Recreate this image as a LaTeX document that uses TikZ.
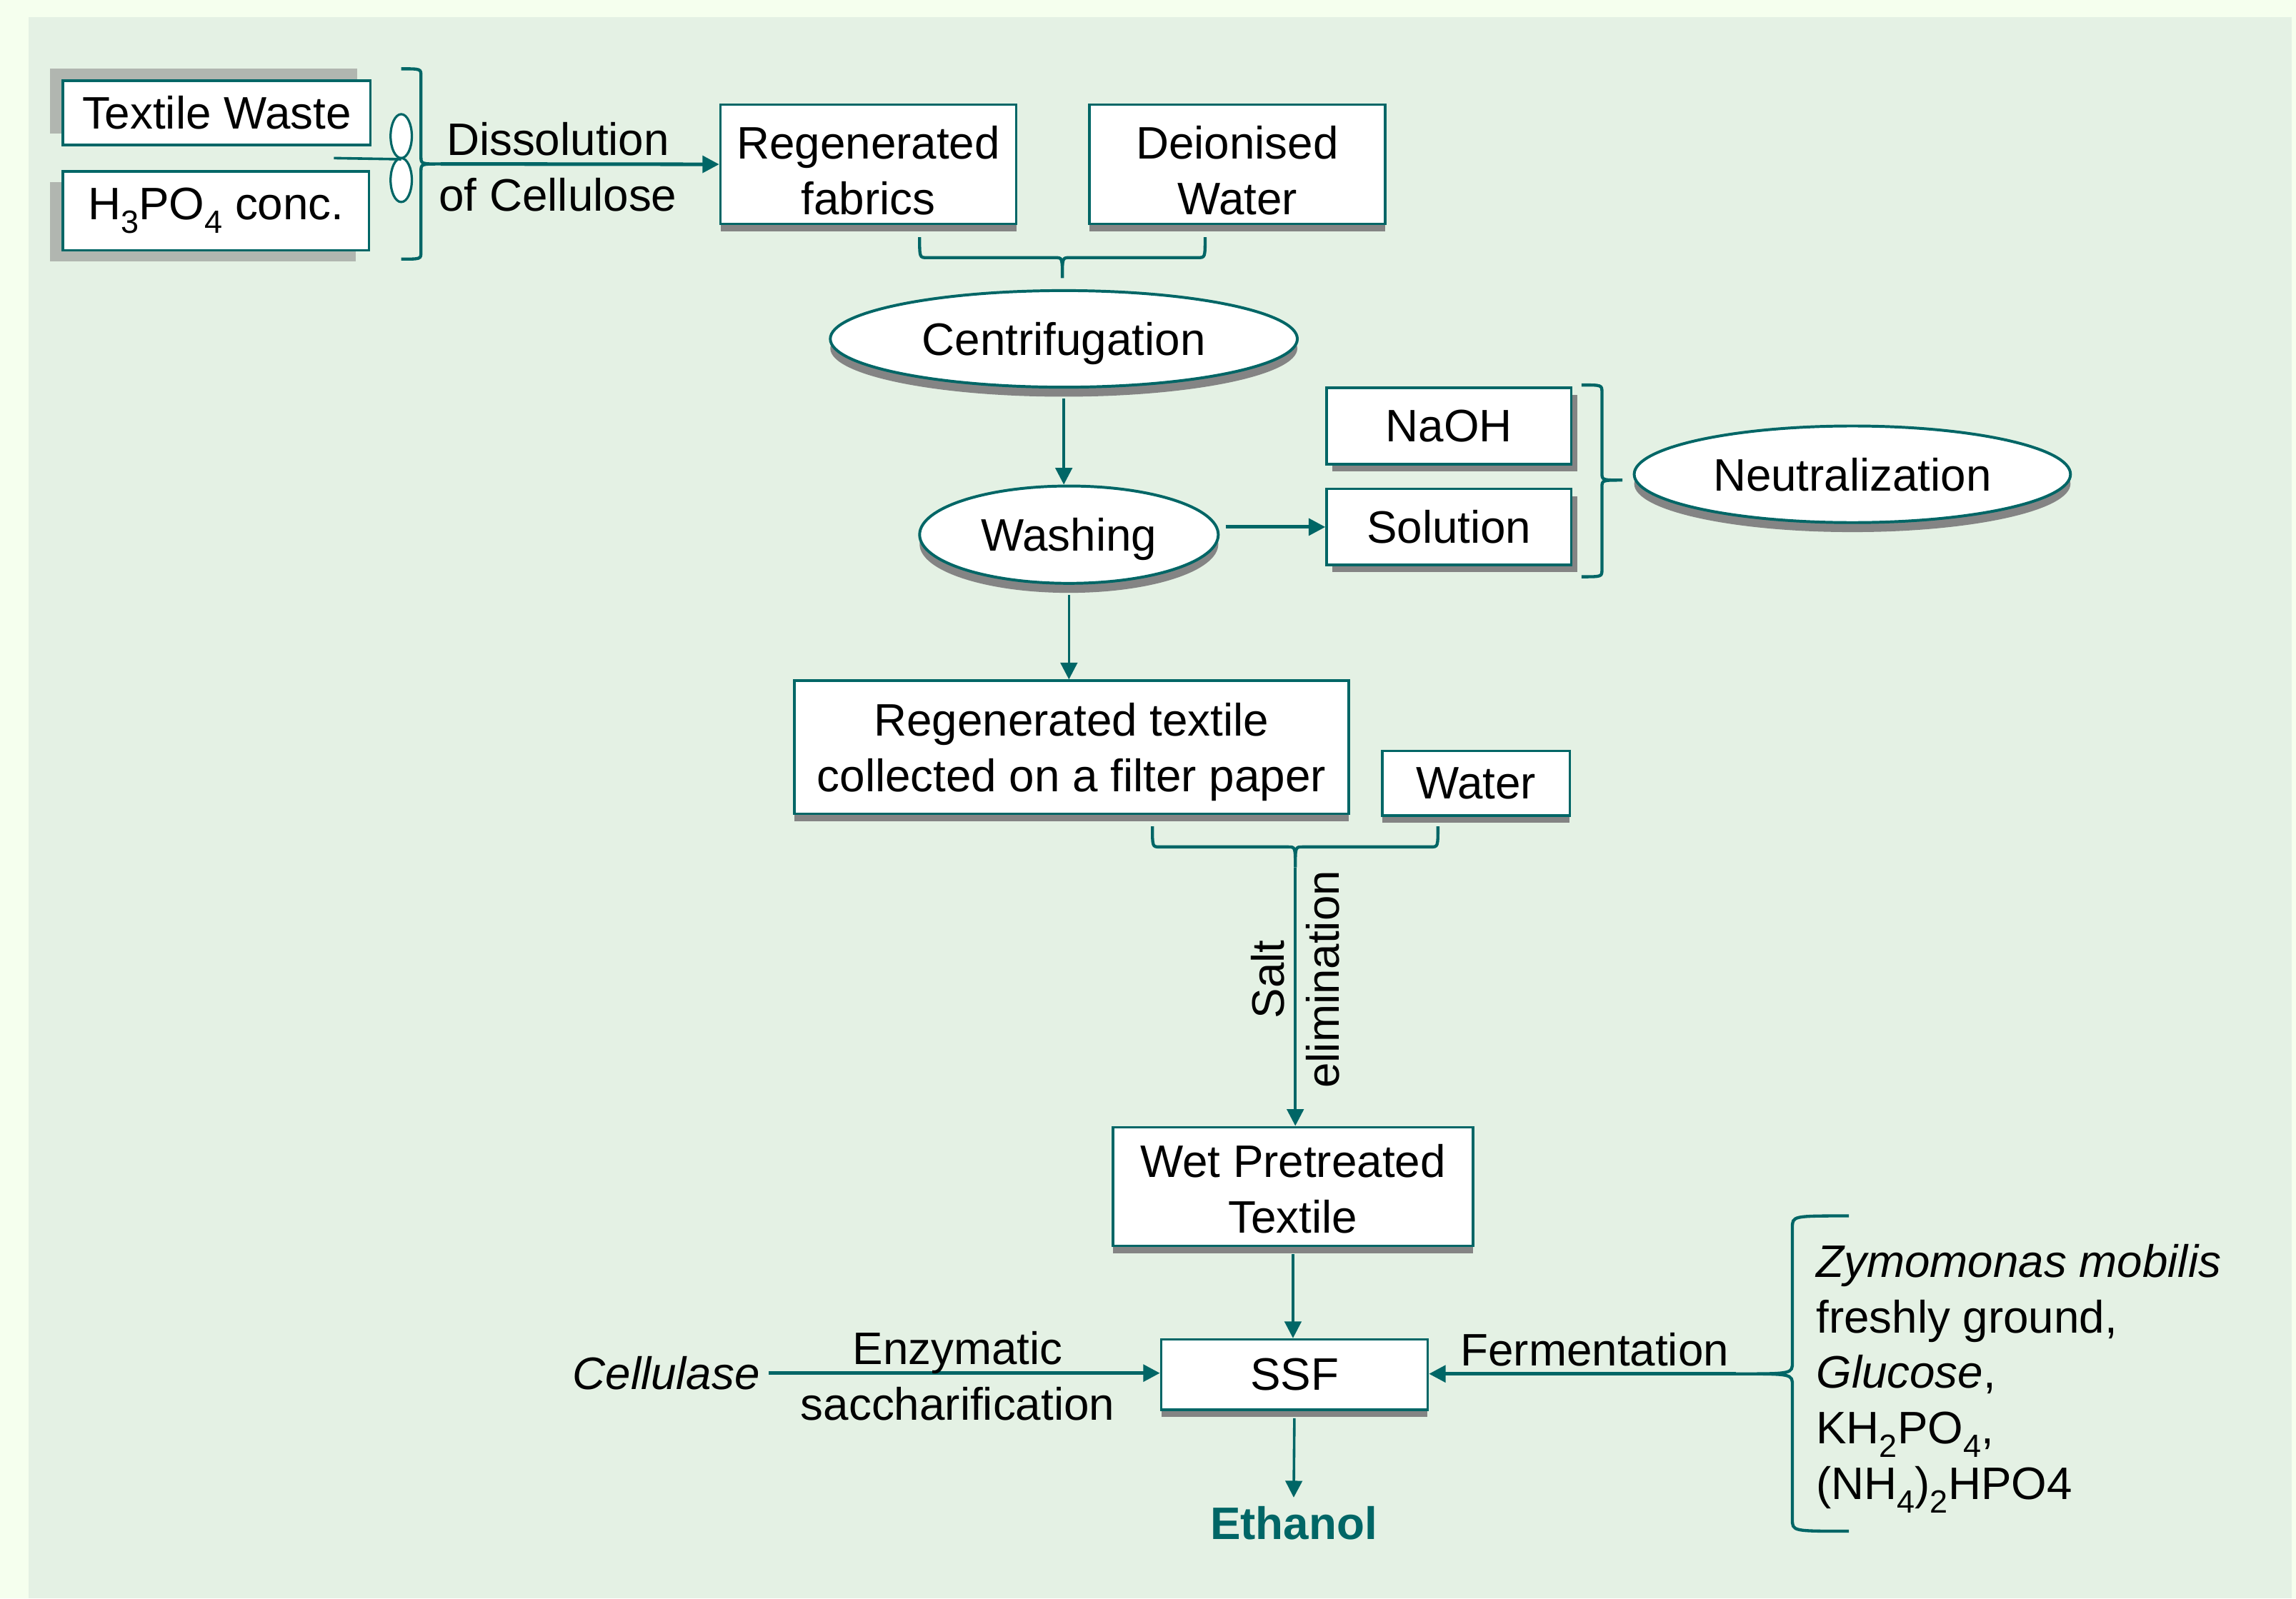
\documentclass[tikz,border=0pt]{standalone}
\usepackage{fontspec}
\setmainfont{Liberation Sans}
\usetikzlibrary{arrows.meta,shapes.geometric,shadows}
\definecolor{flowteal}{RGB}{0,102,102}
\definecolor{pagegreen}{RGB}{245,255,238}
\definecolor{panelgreen}{RGB}{228,241,228}
\definecolor{shadegray}{RGB}{132,132,132}
\definecolor{paleshade}{RGB}{177,182,176}
\newcommand{\chemsub}[1]{\raisebox{-0.55ex}{\fontsize{12.5}{12.5}\selectfont #1}}
\newcommand{\vertbrace}[6]{%
	\draw[curly] (#1,#3) .. controls ({(#1+#2)/2},#3) .. ({(#1+#2)/2},{#3+#6})
		-- ({(#1+#2)/2},{#5-#6}) .. controls ({(#1+#2)/2},#5) .. (#2,#5)
		.. controls ({(#1+#2)/2},#5) .. ({(#1+#2)/2},{#5+#6})
		-- ({(#1+#2)/2},{#4-#6}) .. controls ({(#1+#2)/2},#4) .. (#1,#4);
}
\newcommand{\horzbrace}[6]{%
	\draw[curly] (#3,#1) .. controls (#3,{(#1+#2)/2}) .. ({#3+#6},{(#1+#2)/2})
		-- ({#5-#6},{(#1+#2)/2}) .. controls (#5,{(#1+#2)/2}) .. (#5,#2)
		.. controls (#5,{(#1+#2)/2}) .. ({#5+#6},{(#1+#2)/2})
		-- ({#4-#6},{(#1+#2)/2}) .. controls (#4,{(#1+#2)/2}) .. (#4,#1);
}

\begin{document}
\begin{tikzpicture}[x=0.02cm, y=-0.02cm,
        font=\fontsize{17.7}{21.6}\selectfont,
        flowbox/.style={rectangle, draw=flowteal, line width=1pt, fill=white, inner sep=0pt, align=center},
        flowoval/.style={ellipse, draw=flowteal, line width=1.1pt, fill=white, inner sep=0pt, text depth=0pt},
        lowshadow/.style={drop shadow={shadow xshift=#1, shadow yshift=-0.1cm, fill=shadegray, opacity=1}},
        ovalshadow/.style={drop shadow={shadow xshift=0cm, shadow yshift=-0.13cm, fill=shadegray, opacity=1}},
        paleshadow/.style={drop shadow={shadow xshift=-0.18cm, shadow yshift=#1, fill=paleshade, opacity=1}},
        propeller/.style={ellipse, draw=flowteal, line width=0.9pt, fill=white, inner sep=0pt, minimum width=0.29cm, minimum height=0.6cm},
        flow/.style={draw=flowteal, line width=1pt, -{Triangle[length=6.5pt,width=6.5pt]}},
        curly/.style={draw=flowteal, line width=1.2pt}]
        \useasboundingbox (0,0) rectangle (1568,1092);
        \fill[pagegreen] (0,0) rectangle (1568,1092);
        \fill[panelgreen] (19.5,11.7) rectangle (1565,1092);

        \node[flowbox, paleshadow=0.16cm, minimum width=4.2cm, minimum height=0.88cm] (tw) at (148,77) {Textile Waste};
        \node[flowbox, paleshadow=-0.15cm, minimum width=4.18cm, minimum height=1.08cm] (h3) at (147.5,144) {H\chemsub{3}PO\chemsub{4} conc.};
        \node[propeller] (pa) at (274,93) {};
        \node[propeller] (pb) at (274,123) {};
        \coordinate (mixin) at (228,108);
        \draw[flowteal, line width=1pt] (mixin) -- (pa.south);
        \vertbrace{274}{301}{47}{177}{112}{5}
        \coordinate (dstip) at (301,112);
        \node[flowbox, lowshadow=0cm, text height=39pt, minimum width=4.04cm, minimum height=1.63cm] (rf) at (593,112.25) {Regenerated\\fabrics};
        \node[flowbox, lowshadow=0cm, text height=39pt, minimum width=4.04cm, minimum height=1.63cm] (dw) at (845,112.25) {Deionised\\Water};
        \draw[flow, line width=1.4pt] (dstip) -- (rf.west);
        \node[align=center] (dl) at (381,114) {Dissolution\\of Cellulose};

        \horzbrace{162}{190}{628}{823}{725.5}{5}
        \node[flowoval, ovalshadow, minimum width=6.38cm, minimum height=1.32cm] (cf) at (726.5,231.5) {Centrifugation};
        \node[flowoval, ovalshadow, minimum width=4.08cm, minimum height=1.33cm] (wa) at (730,365.25) {Washing};
        \draw[flow, shorten <=0.14cm] (cf.south) -- (cf.south |- wa.north);

        \node[flowbox, lowshadow=0.08cm, minimum width=3.34cm, minimum height=1.04cm] (na) at (989.5,291) {NaOH};
        \node[flowbox, lowshadow=0.08cm, minimum width=3.34cm, minimum height=1.04cm] (so) at (989.5,360) {Solution};
        \draw[flow, line width=1.4pt, shorten <=0.08cm] (wa.east |- so.west) -- (so.west);
        \vertbrace{1080}{1108}{263}{394}{328}{5}
        \node[flowoval, ovalshadow, minimum width=5.96cm, minimum height=1.32cm] (ne) at (1265,324) {Neutralization};

        \node[flowbox, lowshadow=0cm, text depth=0pt, minimum width=7.57cm, minimum height=1.82cm] (rt) at (731.75,510.5) {Regenerated textile\\collected on a filter paper};
        \draw[flow, shorten <=0.14cm] (wa.south) -- (wa.south |- rt.north);
        \node[flowbox, lowshadow=0cm, minimum width=2.56cm, minimum height=0.88cm] (wt) at (1008,535) {Water};
        \horzbrace{564.5}{592.6}{787}{982}{884.6}{5}
        \coordinate (wstip) at (884.6,592.6);

        \node[flowbox, lowshadow=0cm, text height=36.5pt, minimum width=4.92cm, minimum height=1.62cm] (wp) at (883,810.5) {Wet Pretreated\\Textile};
        \draw[flow] (wstip) -- (wstip |- wp.north);
        \node[rotate=90, align=center] (se) at (884.6,669) {Salt\\elimination};

        \node[flowbox, lowshadow=0cm, minimum width=3.64cm, minimum height=0.96cm] (ssf) at (884,939) {SSF};
        \draw[flow, shorten <=0.1cm] (wp.south) -- (wp.south |- ssf.north);

        \node (cl) at (455,938) {\itshape Cellulase};
        \draw[flow, line width=1.4pt] (cl.east) -- (cl.east -| ssf.west);
        \node[align=center] (es) at (654,940) {Enzymatic\\saccharification};

        \vertbrace{1262.6}{1185.5}{830.6}{1046}{938.5}{8}
        \coordinate (fmtip) at (1185.5,938.5);
        \draw[flow, line width=1.4pt] (fmtip) -- (fmtip -| ssf.east);
        \node (fm) at (1089,922) {Fermentation};
        \node[anchor=west, align=left, inner sep=0pt] (mx) at (1240,941.6)
                {\textit{Zymomonas mobilis}\\freshly ground,\\\textit{Glucose},\\KH\chemsub{2}PO\chemsub{4},\\(NH\chemsub{4})\chemsub{2}HPO4};

        \node[text=flowteal, font=\fontsize{17.7}{21.6}\selectfont\bfseries] (eth) at (883.5,1040.6) {Ethanol};
        \draw[flow, shorten <=0.1cm] (ssf.south) -- (eth.north);
\end{tikzpicture}
\end{document}
